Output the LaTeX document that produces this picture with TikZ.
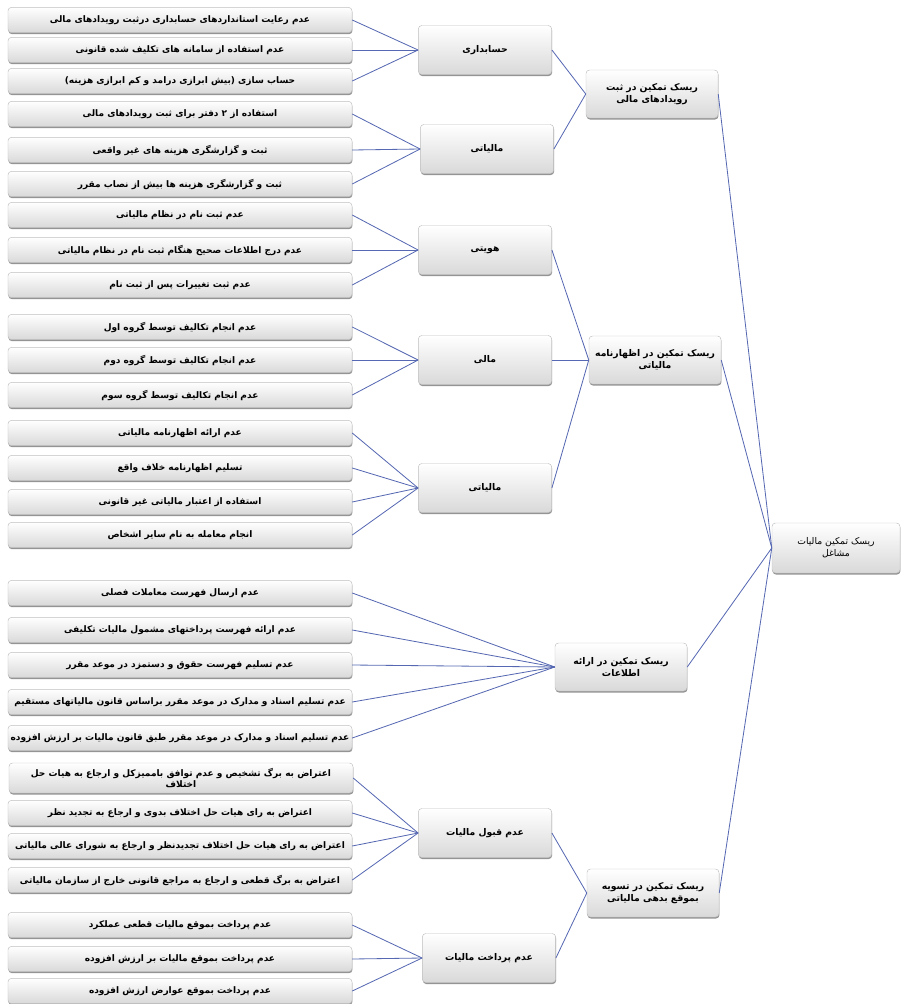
\documentclass[tikz,border=0pt]{standalone}
\usepackage{fontspec}
\usepackage{tikz}
\usetikzlibrary{shadows}
\newfontfamily\farsifont[Script=Arabic]{DejaVu Sans}
\TeXXeTstate=1
\def\fa#1{{\farsifont\beginR #1\endR}}
\definecolor{linkblue}{RGB}{86,104,178}
\tikzset{
	box/.style={draw=black!25, rounded corners=3pt, top color=white, bottom color=black!15, drop shadow={shadow xshift=0.4pt, shadow yshift=-1.3pt, fill=black!60, opacity=0.7}, align=center, inner sep=1pt},
	leafbox/.style={box, minimum width=10.32cm, minimum height=0.76cm, font=\bfseries\fontsize{7.7}{9.5}\selectfont},
	midbox/.style={box, minimum width=4cm, minimum height=1.47cm, font=\bfseries\fontsize{7.9}{9.5}\selectfont},
	riskbox/.style={box, minimum width=3.96cm, minimum height=1.44cm, font=\bfseries\fontsize{7.9}{10}\selectfont},
	rootbox/.style={box, minimum width=3.84cm, minimum height=1.5cm, font=\fontsize{7.9}{10}\selectfont},
	link/.style={linkblue, line width=0.7pt}
}

\begin{document}
\begin{tikzpicture}[x=0.03cm, y=-0.03cm]
	%%%%% START %%%%%
	\useasboundingbox (0, 0) rectangle (902, 1004);
	
	% left column
	\node[leafbox] (l1) at (180, 20) {\fa{عدم رعایت استانداردهای حسابداری درثبت رویدادهای مالی}};
	\node[leafbox] (l2) at (180, 50) {\fa{عدم استفاده از سامانه های تکلیف شده قانونی}};
	\node[leafbox] (l3) at (180, 81) {\fa{حساب سازی (بیش ابرازی درامد و کم ابرازی هزینه)}};
	\node[leafbox] (l4) at (180, 114) {\fa{استفاده از ۲ دفتر برای ثبت رویدادهای مالی}};
	\node[leafbox] (l5) at (180, 150) {\fa{ثبت و گزارشگری هزینه های غیر واقعی}};
	\node[leafbox] (l6) at (180, 184) {\fa{ثبت و گزارشگری هزینه ها بیش از نصاب مقرر}};
	\node[leafbox] (l7) at (180, 215) {\fa{عدم ثبت نام در نظام مالیاتی}};
	\node[leafbox] (l8) at (180, 250) {\fa{عدم درج اطلاعات صحیح هنگام ثبت نام در نظام مالیاتی}};
	\node[leafbox] (l9) at (180, 285) {\fa{عدم ثبت تغییرات پس از ثبت نام}};
	\node[leafbox] (l10) at (180, 327) {\fa{عدم انجام تکالیف توسط گروه اول}};
	\node[leafbox] (l11) at (180, 360) {\fa{عدم انجام تکالیف توسط گروه دوم}};
	\node[leafbox] (l12) at (180, 395) {\fa{عدم انجام تکالیف توسط گروه سوم}};
	\node[leafbox] (l13) at (180, 433) {\fa{عدم ارائه اظهارنامه مالیاتی}};
	\node[leafbox] (l14) at (180, 468) {\fa{تسلیم اظهارنامه خلاف واقع}};
	\node[leafbox] (l15) at (180, 502) {\fa{استفاده از اعتبار مالیاتی غیر قانونی}};
	\node[leafbox] (l16) at (180, 535) {\fa{انجام معامله به نام سایر اشخاص}};
	
	\node[leafbox] (l17) at (180, 593) {\fa{عدم ارسال فهرست معاملات فصلی}};
	\node[leafbox] (l18) at (180, 630) {\fa{عدم ارائه فهرست پرداختهای مشمول مالیات تکلیفی}};
	\node[leafbox] (l19) at (180, 665) {\fa{عدم تسلیم فهرست حقوق و دستمزد در موعد مقرر}};
	\node[leafbox] (l20) at (180, 702) {\fa{عدم تسلیم اسناد و مدارک در موعد مقرر براساس قانون مالیاتهای مستقیم}};
	\node[leafbox] (l21) at (180, 738) {\fa{عدم تسلیم اسناد و مدارک در موعد مقرر طبق قانون مالیات بر ارزش افزوده}};
	\node[leafbox, minimum height=0.9cm] (l22) at (181, 778) {\fa{اعتراض به برگ تشخیص و عدم توافق باممیزکل و ارجاع به هیات حل}\\\fa{اختلاف}};
	\node[leafbox] (l23) at (180, 813) {\fa{اعتراض به رای هیات حل اختلاف بدوی و ارجاع به تجدید نظر}};
	\node[leafbox] (l24) at (180, 846) {\fa{اعتراض به رای هیات حل اختلاف تجدیدنظر و ارجاع به شورای عالی مالیاتی}};
	\node[leafbox] (l25) at (180, 880) {\fa{اعتراض به برگ قطعی و ارجاع به مراجع قانونی خارج از سازمان مالیاتی}};
	\node[leafbox] (l26) at (180, 925) {\fa{عدم پرداخت بموقع مالیات قطعی عملکرد}};
	\node[leafbox] (l27) at (180, 959) {\fa{عدم پرداخت بموقع مالیات بر ارزش افزوده}};
	\node[leafbox] (l28) at (180, 991) {\fa{عدم پرداخت بموقع عوارض ارزش افزوده}};
	
	% middle column
	\node[midbox] (acc) at (485, 50) {\fa{حسابداری}};
	\node[midbox] (tax) at (487, 149) {\fa{مالیاتی}};
	\node[midbox] (ident) at (485, 250) {\fa{هویتی}};
	\node[midbox] (fin) at (485, 360) {\fa{مالی}};
	\node[midbox] (taxb) at (485, 488) {\fa{مالیاتی}};
	\node[midbox] (reject) at (485, 833) {\fa{عدم قبول مالیات}};
	\node[midbox] (unpaid) at (489, 958) {\fa{عدم پرداخت مالیات}};
	
	% risk column
	\node[riskbox] (record) at (652, 94) {\fa{ریسک تمکین در ثبت}\\\fa{رویدادهای مالی}};
	\node[riskbox] (return) at (655, 360) {\fa{ریسک تمکین در اظهارنامه}\\\fa{مالیاتی}};
	\node[riskbox] (inform) at (621, 667) {\fa{ریسک تمکین در ارائه}\\\fa{اطلاعات}};
	\node[riskbox] (settle) at (653, 893) {\fa{ریسک تمکین در تسویه}\\\fa{بموقع بدهی مالیاتی}};
	
	\node[rootbox] (root) at (836, 548) {\fa{ریسک تمکین مالیات}\\\fa{مشاغل}};
	
	% links
	\foreach \i in {1,2,3} \draw[link] (l\i.east) -- (acc.west);
	\foreach \i in {4,5,6} \draw[link] (l\i.east) -- (tax.west);
	\foreach \i in {7,8,9} \draw[link] (l\i.east) -- (ident.west);
	\foreach \i in {10,11,12} \draw[link] (l\i.east) -- (fin.west);
	\foreach \i in {13,...,16} \draw[link] (l\i.east) -- (taxb.west);
	\foreach \i in {17,...,21} \draw[link] (l\i.east) -- (inform.west);
	\foreach \i in {22,...,25} \draw[link] (l\i.east) -- (reject.west);
	\foreach \i in {26,27,28} \draw[link] (l\i.east) -- (unpaid.west);
	
	\foreach \m in {acc,tax} \draw[link] (\m.east) -- (record.west);
	\foreach \m in {ident,fin,taxb} \draw[link] (\m.east) -- (return.west);
	\foreach \m in {reject,unpaid} \draw[link] (\m.east) -- (settle.west);
	
	\foreach \r in {record,return,inform,settle} \draw[link] (\r.east) -- (root.west);
	
	%%%%% END %%%%%
\end{tikzpicture}
\end{document}
